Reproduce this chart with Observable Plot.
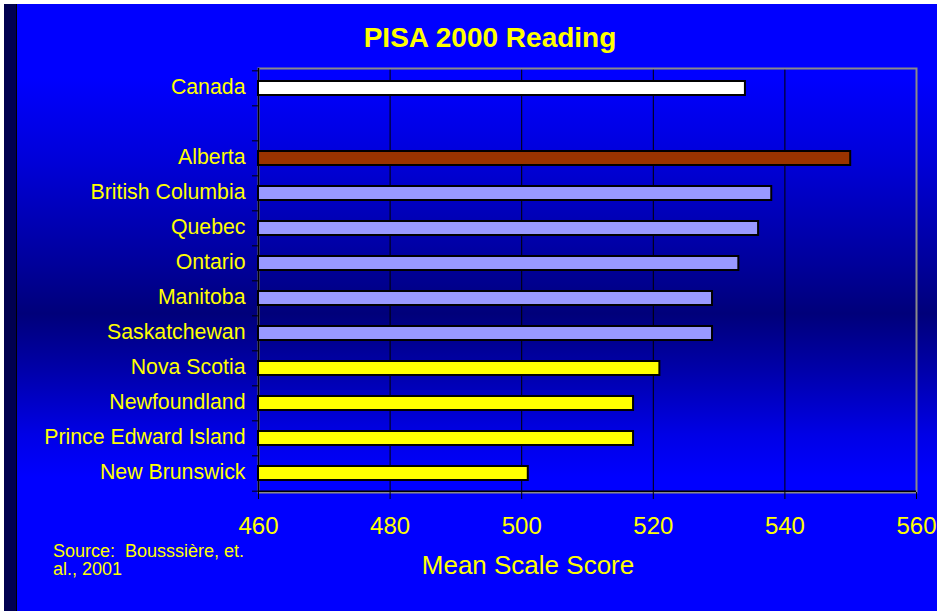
<!DOCTYPE html>
<html>
<head>
<meta charset="utf-8">
<script src="https://cdn.jsdelivr.net/npm/d3@7"></script>
<script src="https://cdn.jsdelivr.net/npm/@observablehq/plot@0.6"></script>
<style>
  html, body { margin: 0; padding: 0; background: #ffffff; }
  #wrap { position: relative; width: 937px; height: 611px; overflow: hidden; font-family: "Liberation Sans", Arial, sans-serif; }
  #bg { position: absolute; left: 17px; top: 4px; right: 0; bottom: 0;
    background: linear-gradient(to bottom, #0000ff 0%, #0000ff 12%, #0000d8 26%, #00009a 43%, #00007a 51%, #0000a8 60%, #0000e6 71%, #0000ff 78%, #0000ff 100%); }
  #strip { position: absolute; left: 4px; top: 4px; width: 12px; bottom: 0; background: #000050; border-right: 1px solid #000000; }
  #chart { position: absolute; left: 0; top: 0; }
  .txt { position: absolute; color: #ffff00; white-space: pre; line-height: 1; }
  #title { left: 190px; width: 600px; top: 24px; text-align: center; font-size: 28px; font-weight: bold; }
  #xlabel { left: 328px; width: 400px; top: 552px; text-align: center; font-size: 26px; }
  #source { left: 53px; top: 542px; font-size: 18px; line-height: 18px; }
</style>
</head>
<body>
<div id="wrap">
  <div id="bg"></div>
  <div id="strip"></div>
  <div id="chart"></div>
  <div class="txt" id="title">PISA 2000 Reading</div>
  <div class="txt" id="xlabel">Mean Scale Score</div>
  <div class="txt" id="source">Source:  Bousssière, et.
al., 2001</div>
</div>
<script>
// Data
const categories = ["Canada", " ", "Alberta", "British Columbia", "Quebec", "Ontario", "Manitoba", "Saskatchewan", "Nova Scotia", "Newfoundland", "Prince Edward Island", "New Brunswick"];
const names = ["Canada", "Alberta", "British Columbia", "Quebec", "Ontario", "Manitoba", "Saskatchewan", "Nova Scotia", "Newfoundland", "Prince Edward Island", "New Brunswick"];
const scores = [534, 550, 538, 536, 533, 529, 529, 521, 517, 517, 501];
const groups = ["Canada", "Top", "Middle", "Middle", "Middle", "Middle", "Middle", "Atlantic", "Atlantic", "Atlantic", "Atlantic"];
const groupDomain = ["Canada", "Top", "Middle", "Atlantic"];
const groupColors = ["#ffffff", "#993300", "#9999ff", "#ffff00"];
const xTicks = [460, 480, 500, 520, 540, 560];
const xGrid = [480, 500, 520, 540];
const xMin = 460, xMax = 560;

const rows = names.map((n, i) => ({name: n, score: scores[i], group: groups[i]}));

const W = 937, H = 611, mL = 258, mR = 21, mT = 68, mB = 119;
const step = (H - mT - mB) / categories.length;

const chart = Plot.plot({
  width: W,
  height: H,
  marginLeft: mL,
  marginRight: mR,
  marginTop: mT,
  marginBottom: mB,
  style: {background: "transparent", fontFamily: "'Liberation Sans', Arial, sans-serif", overflow: "visible"},
  x: {domain: [xMin, xMax], label: null},
  y: {domain: categories, paddingInner: 0.6, paddingOuter: 0.3, label: null},
  color: {domain: groupDomain, range: groupColors},
  marks: [
    Plot.ruleX(xGrid, {stroke: "#000000", strokeWidth: 1}),
    Plot.frame({stroke: "#8a8a8a", strokeWidth: 2}),
    Plot.ruleX([xMin], {stroke: "#000000", strokeWidth: 1.5}),
    Plot.ruleY([categories[categories.length - 1]], {dy: step / 2, stroke: "#000000", strokeWidth: 1.5}),
    Plot.barX(rows, {x1: xMin, x2: "score", y: "name", fill: "group", stroke: "#000000", strokeWidth: 2}),
    Plot.axisY({tickSize: 6, dy: -step / 2, stroke: "#000000", tickFormat: () => "", label: null}),
    Plot.axisY([categories[categories.length - 1]], {tickSize: 6, dy: step / 2, stroke: "#000000", tickFormat: () => "", label: null}),
    Plot.axisY({tickSize: 0, tickPadding: 13, dy: -1, fill: "#ffff00", fontSize: 21.3, tickFormat: d => d.trim(), label: null}),
    Plot.axisX(xTicks, {tickSize: 7, stroke: "#000000", tickFormat: () => "", label: null}),
    Plot.axisX(xTicks, {tickSize: 0, tickPadding: 24, fill: "#ffff00", fontSize: 24, label: null})
  ]
});
document.getElementById("chart").appendChild(chart);
</script>
</body>
</html>
